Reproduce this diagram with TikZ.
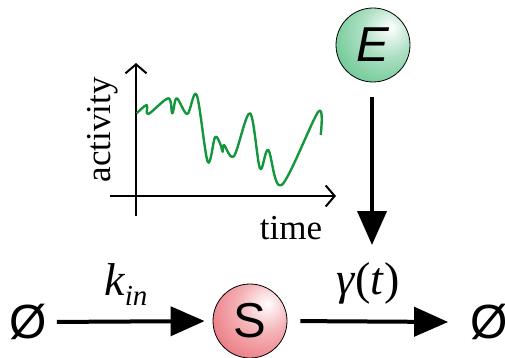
\documentclass[tikz,border=0pt]{standalone}
\usepackage{fontspec}
\setmainfont{Liberation Serif}
\setsansfont{Liberation Sans}
\usetikzlibrary{arrows.meta}

\definecolor{ballgreen}{RGB}{70,185,120}
\definecolor{ballred}{RGB}{230,85,95}
\definecolor{curvegreen}{RGB}{20,150,60}

% Shadings for the two species
\pgfdeclareradialshading{shadeE}{\pgfpoint{12bp}{12bp}}{color(0bp)=(white); color(18bp)=(ballgreen!45!white); color(50bp)=(ballgreen); color(64bp)=(ballgreen!80!black); color(100bp)=(ballgreen!80!black)}
\pgfdeclareradialshading{shadeS}{\pgfpoint{12bp}{12bp}}{color(0bp)=(white); color(18bp)=(ballred!45!white); color(50bp)=(ballred); color(64bp)=(ballred!85!black); color(100bp)=(ballred!85!black)}

\begin{document}
\begin{tikzpicture}[x=1pt, y=-1pt,
    ball/.style={circle, draw=black, line width=0.8pt, minimum size=74pt, inner sep=0pt,
        font=\sffamily\fontsize{49}{49}\selectfont},
    nullset/.style={inner sep=0pt, font=\sffamily\fontsize{48}{48}\selectfont},
    rate/.style={inner sep=0pt, font=\rmfamily\fontsize{46}{46}\selectfont},
    bigarrow/.style={line width=4pt, -{Triangle[length=34pt,width=29pt]}},
    axis/.style={line width=2pt, -{Straight Barb[length=9pt,width=21pt]}}]
    \useasboundingbox (0,0) rectangle (505,358);

    % Species
    \node[ball, shading=shadeE] (E) at (373,45) {\itshape E};
    \node[ball, shading=shadeS] (S) at (250,321) {S};

    % Sources and sinks
    \node[nullset] (nullL) at (28,322) {Ø};
    \node[nullset] (nullR) at (489,322) {Ø};

    % Reactions
    \draw[bigarrow, shorten <=10pt, shorten >=8pt] (nullL.east) -- (S.west);
    \draw[bigarrow, shorten <=13pt] (S.east) -- ([xshift=-22pt]nullR.west);
    \node[rate] (kin) at (126,285) {\itshape k\raisebox{-10pt}{\fontsize{29}{29}\selectfont in}};
    \node[rate] (gamma) at (368,283) {\textit{γ}(\textit{t})};

    % Modulation by E
    \coordinate (Etip) at (372,245);
    \draw[bigarrow, shorten <=15pt] (E.south -| Etip) -- (Etip);

    % Inset: activity of E over time
    \draw[axis] (136,216) -- (136,63);
    \draw[axis] (110,196) -- (336,196);
    \node[font=\fontsize{35}{35}\selectfont, rotate=90] (act) at (103,130) {activity};
    \node[font=\fontsize{35}{35}\selectfont] (time) at (291,228) {time};
    \draw[curvegreen, line width=2.4pt, line join=round] plot[smooth, tension=0.55] coordinates {
        (136.7,113.3) (146.7,105) (148.3,114) (168.3,98.3) (172.3,113.3) (176.7,98.3)
        (187.3,114) (196.7,95) (207.7,161.7) (215,137.3) (220,143.3) (222.7,151.7)
        (224,145) (234,156) (250,113.3) (260,168.3) (268.3,150) (281.7,185)
        (318.3,111.7) (320.7,135)};
\end{tikzpicture}
\end{document}
